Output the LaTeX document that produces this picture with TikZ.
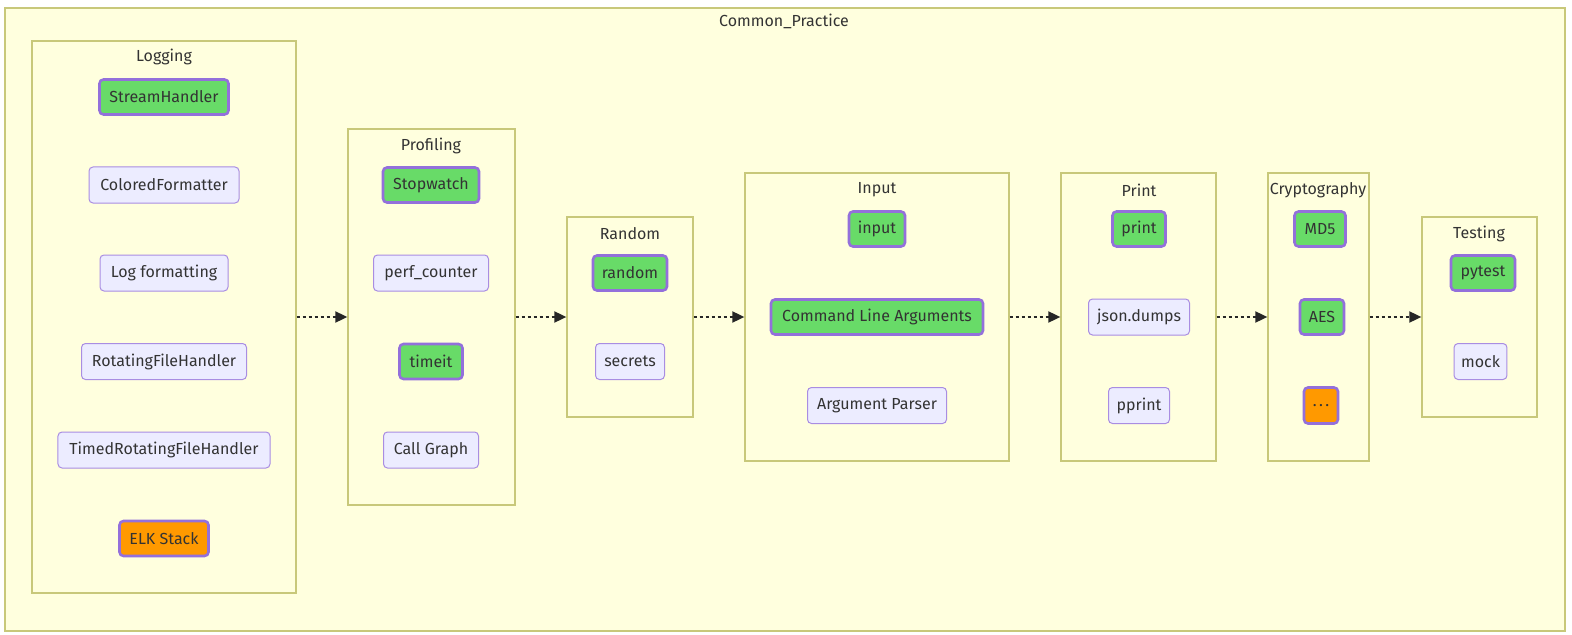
\documentclass[tikz,border=0pt]{standalone}
\usepackage{fontspec}
\setmainfont{Fira Sans}
\usetikzlibrary{arrows.meta}
\definecolor{clfill}{HTML}{FFFFDE}
\definecolor{clstroke}{HTML}{C8C87A}
\definecolor{ndfill}{HTML}{ECECFF}
\definecolor{ndstroke}{HTML}{9370DB}
\definecolor{gnfill}{HTML}{68DB68}
\definecolor{orfill}{HTML}{FF9900}
\definecolor{txt}{HTML}{333333}
\tikzset{
  x=1bp, y=-1bp,
  every node/.style={font=\fontsize{16bp}{19bp}\selectfont, text=txt},
  cluster/.style={draw=clstroke, fill=clfill, line width=1.3bp, rectangle, inner sep=0pt},
  ctitle/.style={anchor=center},
  plain/.style={draw=ndstroke!80, fill=ndfill, line width=1bp, rounded corners=4bp, minimum height=36bp, inner xsep=7bp, inner ysep=0pt},
  green/.style={draw=ndstroke, fill=gnfill, line width=2.6bp, rounded corners=4bp, minimum height=35bp, inner xsep=6bp, inner ysep=0pt},
  orange/.style={draw=ndstroke, fill=orfill, line width=2.6bp, rounded corners=4bp, minimum height=35bp, inner xsep=6bp, inner ysep=0pt},
  flow/.style={draw=black!85, line width=1.8bp, dash pattern=on 3bp off 3bp, -{Triangle[length=12bp,width=11bp]}},
}
\begin{document}
\begin{tikzpicture}
\useasboundingbox (0,0) rectangle (1572,635);
% outer
\node[cluster, minimum width=1560bp, minimum height=623bp] (outer) at (785,319.5) {};
\node[ctitle] (outerT) at (784,21) {Common\_Practice};
% clusters
\node[cluster, minimum width=264bp, minimum height=552bp] (logging) at (164,317) {};
\node[ctitle] (loggingT) at (164,57) {Logging};
\node[cluster, minimum width=167bp, minimum height=376bp] (profiling) at (431.5,317) {};
\node[ctitle] (profilingT) at (431,146) {Profiling};
\node[cluster, minimum width=126bp, minimum height=200bp] (random) at (630,317) {};
\node[ctitle] (randomT) at (630,234) {Random};
\node[cluster, minimum width=264bp, minimum height=288bp] (input) at (877,317) {};
\node[ctitle] (inputT) at (877,190) {Input};
\node[cluster, minimum width=155bp, minimum height=288bp] (print) at (1138.5,317) {};
\node[ctitle] (printT) at (1139,190) {Print};
\node[cluster, minimum width=101bp, minimum height=288bp] (crypto) at (1318.5,317) {};
\node[ctitle] (cryptoT) at (1318,190) {Cryptography};
\node[cluster, minimum width=115bp, minimum height=200bp] (testing) at (1479.5,317) {};
\node[ctitle] (testingT) at (1479,234) {Testing};
% Logging nodes
\node[green, minimum width=129bp] (sh) at (164,97) {StreamHandler};
\node[plain, minimum width=150bp] (cf) at (164,185) {ColoredFormatter};
\node[plain, minimum width=128bp] (lf) at (164,273) {Log formatting};
\node[plain, minimum width=165bp] (rfh) at (164,361.5) {RotatingFileHandler};
\node[plain, minimum width=212bp] (trfh) at (164,450) {TimedRotatingFileHandler};
\node[orange, minimum width=89bp] (elk) at (164,538.5) {ELK Stack};
% Profiling
\node[green, minimum width=96bp] (sw) at (431,185) {Stopwatch};
\node[plain, minimum width=115bp] (pc) at (431,273) {perf\_counter};
\node[green, minimum width=63bp] (ti) at (431,361.5) {timeit};
\node[plain, minimum width=95bp] (cg) at (431,450) {Call Graph};
% Random
\node[green, minimum width=74bp] (rnd) at (630,273) {random};
\node[plain, minimum width=69bp] (sec) at (630,361.5) {secrets};
% Input
\node[green, minimum width=56bp] (inp) at (877,229) {input};
\node[green, minimum width=212bp] (cla) at (877,317) {Command Line Arguments};
\node[plain, minimum width=139bp] (ap) at (877,405.5) {Argument Parser};
% Print
\node[green, minimum width=53bp] (pr) at (1139,229) {print};
\node[plain, minimum width=101bp] (jd) at (1139,317) {json.dumps};
\node[plain, minimum width=61bp] (pp) at (1139,405.5) {pprint};
% Crypto
\node[green, minimum width=51bp] (md5) at (1320,229) {MD5};
\node[green, minimum width=44bp] (aes) at (1322,317) {AES};
\node[orange, minimum width=34bp, minimum height=36bp] (dots) at (1321,405.5) {.\kern2.5bp.\kern2.5bp.};
% Testing
\node[green, minimum width=64bp] (pyt) at (1483,273) {pytest};
\node[plain, minimum width=51bp] (mock) at (1480.5,361.5) {mock};
% arrows
\draw[flow] (logging.east) -- (profiling.west);
\draw[flow] (profiling.east) -- (random.west);
\draw[flow] (random.east) -- (input.west);
\draw[flow] (input.east) -- (print.west);
\draw[flow] (print.east) -- (crypto.west);
\draw[flow] (crypto.east) -- (testing.west);
\end{tikzpicture}
\end{document}
